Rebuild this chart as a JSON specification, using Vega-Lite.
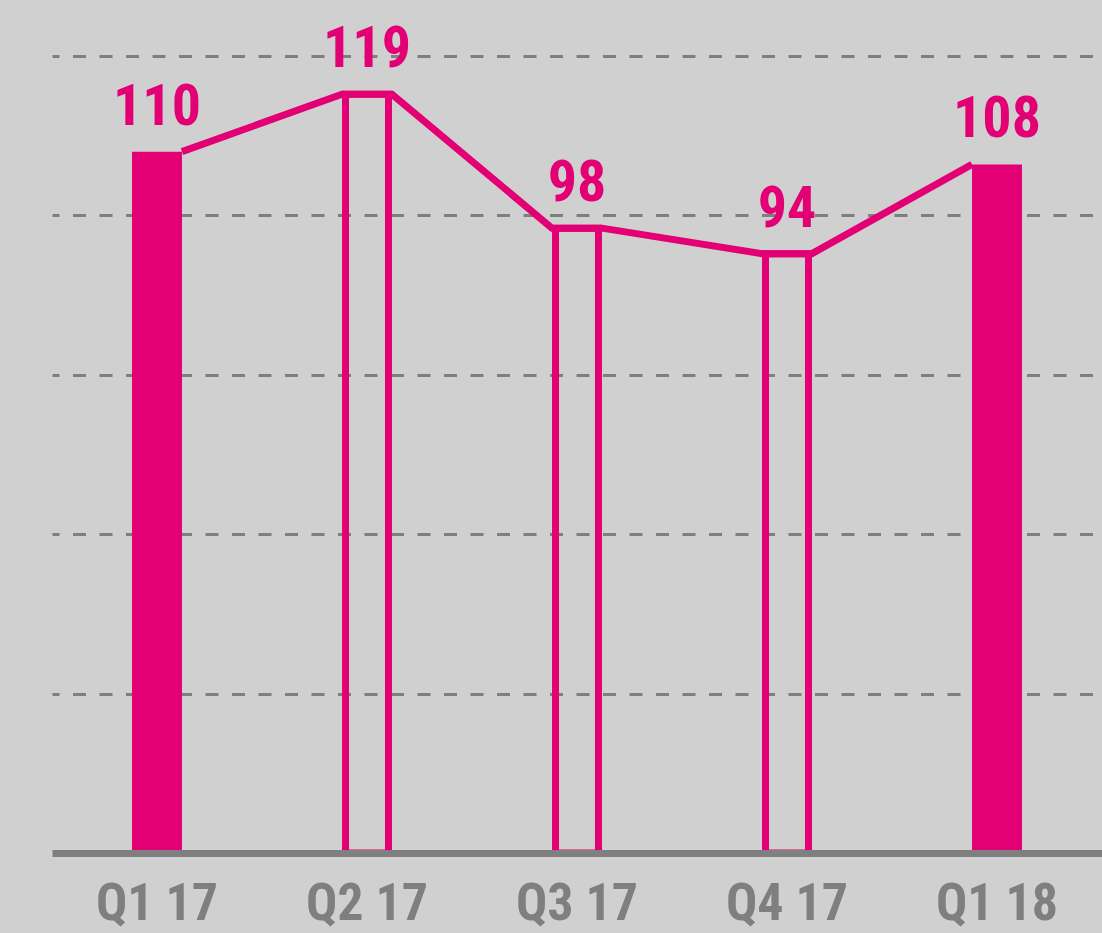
{
  "$schema": "https://vega.github.io/schema/vega-lite/v6.json",
  "width": 1050,
  "height": 797,
  "autosize": {"type": "none"},
  "padding": {"left": 52, "top": 56, "right": 0, "bottom": 80},
  "background": "#d0d0d0",
  "config": {"view": {"stroke": null}},
  "datasets": {
    "bars": [
      {"quarter": "Q1 17", "value": 110, "kind": "filled"},
      {"quarter": "Q2 17", "value": 119, "kind": "outline"},
      {"quarter": "Q3 17", "value": 98, "kind": "outline"},
      {"quarter": "Q4 17", "value": 94, "kind": "outline"},
      {"quarter": "Q1 18", "value": 108, "kind": "filled"}
    ],
    "line": [
      {"quarter": "Q1 17", "side": "right", "value": 110},
      {"quarter": "Q2 17", "side": "left", "value": 119},
      {"quarter": "Q2 17", "side": "right", "value": 119},
      {"quarter": "Q3 17", "side": "left", "value": 98},
      {"quarter": "Q3 17", "side": "right", "value": 98},
      {"quarter": "Q4 17", "side": "left", "value": 94},
      {"quarter": "Q4 17", "side": "right", "value": 94},
      {"quarter": "Q1 18", "side": "left", "value": 108}
    ]
  },
  "resolve": {"scale": {"xOffset": "independent"}},
  "encoding": {
    "x": {
      "field": "quarter",
      "type": "nominal",
      "scale": {"domain": ["Q1 17", "Q2 17", "Q3 17", "Q4 17", "Q1 18"], "paddingInner": 0.762, "paddingOuter": 0.381},
      "axis": {
        "title": null,
        "labelAngle": 0,
        "labelFont": "Roboto Condensed, Liberation Sans Narrow, Arial Narrow, Liberation Sans, sans-serif",
        "labelFontSize": 52,
        "labelFontWeight": "bold",
        "labelColor": "#7f7f7f",
        "labelBaseline": "alphabetic",
        "labelPadding": 66,
        "ticks": false,
        "tickSize": 0,
        "domainColor": "#7f7f7f",
        "domainWidth": 7,
        "grid": false,
        "zindex": 1
      }
    },
    "y": {
      "field": "value",
      "type": "quantitative",
      "scale": {"domain": [0, 125], "nice": false, "zero": true},
      "axis": {
        "title": null,
        "labels": false,
        "ticks": false,
        "domain": false,
        "grid": true,
        "values": [25, 50, 75, 100, 125],
        "gridColor": "#7f7f7f",
        "gridWidth": 3,
        "gridDash": [13, 13.5],
        "gridDashOffset": 6
      }
    }
  },
  "layer": [
    {
      "data": {"name": "bars"},
      "transform": [{"filter": "datum.kind === 'filled'"}],
      "mark": {"type": "bar", "color": "#e20074"}
    },
    {
      "data": {"name": "bars"},
      "transform": [{"filter": "datum.kind === 'outline'"}],
      "mark": {"type": "bar", "width": {"band": 0.86}, "fill": "#d0d0d0", "fillOpacity": 0, "stroke": "#e20074", "strokeWidth": 7}
    },
    {
      "data": {"name": "line"},
      "mark": {"type": "line", "color": "#e20074", "strokeWidth": 7, "strokeJoin": "miter", "strokeCap": "butt"},
      "encoding": {
        "xOffset": {"field": "side", "type": "nominal", "scale": {"type": "point", "padding": 0, "domain": ["left", "right"]}},
        "order": {"value": null}
      }
    },
    {
      "data": {"name": "bars"},
      "mark": {"type": "text", "color": "#e20074", "font": "Roboto Condensed, Liberation Sans Narrow, Arial Narrow, Liberation Sans, sans-serif", "fontWeight": "bold", "fontSize": 58, "baseline": "alphabetic", "dy": -27},
      "encoding": {"text": {"field": "value", "type": "quantitative"}}
    }
  ]
}
